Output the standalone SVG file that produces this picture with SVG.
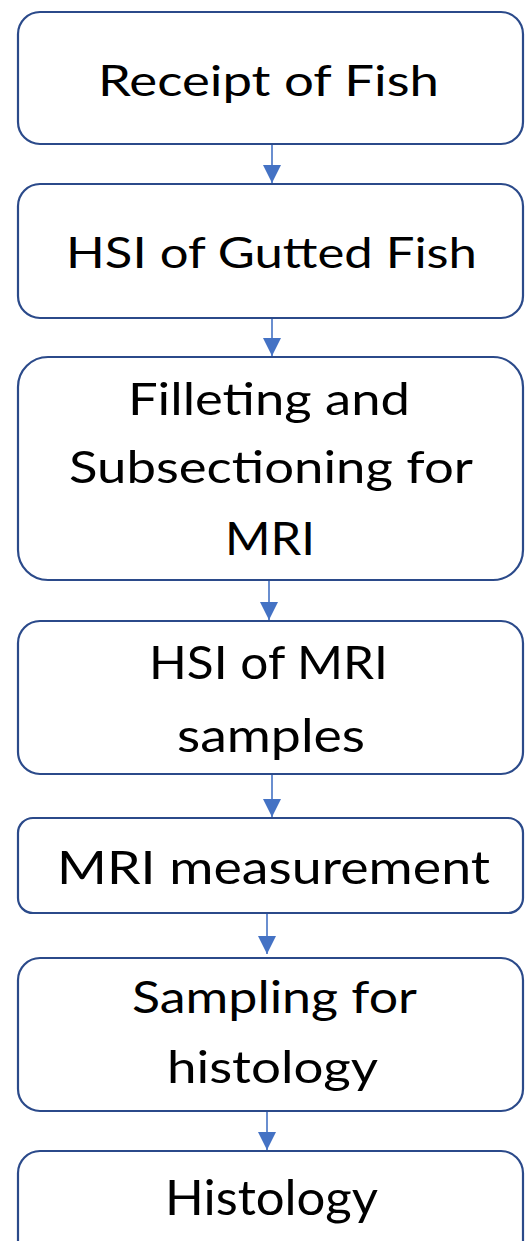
<svg xmlns="http://www.w3.org/2000/svg" width="525" height="1241" viewBox="0 0 525 1241">
<style>
.box{fill:#ffffff;stroke:#2b4a8a;stroke-width:2.2}
.lbl{font-family:Lato,"Open Sans","Liberation Sans",sans-serif;fill:#000000}
.conn{stroke:#4472c4;stroke-width:1.6;fill:none}
</style>
<defs>
<marker id="ah" viewBox="0 0 18 18" refX="18" refY="9" markerWidth="18" markerHeight="18" markerUnits="userSpaceOnUse" orient="auto">
<path d="M0,0 L18,9 L0,18 z" fill="#4472c4"/>
</marker>
</defs>
<rect width="525" height="1241" fill="#ffffff"/>
<g id="connectors">
<line class="conn" x1="272" y1="144" x2="272" y2="183" marker-end="url(#ah)"/>
<line class="conn" x1="272" y1="318" x2="272" y2="356" marker-end="url(#ah)"/>
<line class="conn" x1="269" y1="580" x2="269" y2="620" marker-end="url(#ah)"/>
<line class="conn" x1="272" y1="774" x2="272" y2="817" marker-end="url(#ah)"/>
<line class="conn" x1="267" y1="913" x2="267" y2="954" marker-end="url(#ah)"/>
<line class="conn" x1="267" y1="1111" x2="267" y2="1150" marker-end="url(#ah)"/>
</g>
<g id="node1">
<rect class="box" x="18" y="12" width="505" height="132" rx="22"/>
<text class="lbl" x="98" y="96" font-size="43" textLength="341" lengthAdjust="spacingAndGlyphs">Receipt of Fish</text>
</g>
<g id="node2">
<rect class="box" x="18" y="184" width="505" height="134" rx="22"/>
<text class="lbl" x="66" y="268" font-size="42" textLength="411" lengthAdjust="spacingAndGlyphs">HSI of Gutted Fish</text>
</g>
<g id="node3">
<rect class="box" x="18" y="357" width="505" height="223" rx="30"/>
<text class="lbl" x="128" y="415" font-size="45" textLength="282" lengthAdjust="spacingAndGlyphs">Filleting and</text>
<text class="lbl" x="69" y="483" font-size="45" textLength="404" lengthAdjust="spacingAndGlyphs">Subsectioning for</text>
<text class="lbl" x="225" y="555" font-size="46" textLength="90" lengthAdjust="spacingAndGlyphs">MRI</text>
</g>
<g id="node4">
<rect class="box" x="18" y="621" width="505" height="153" rx="22"/>
<text class="lbl" x="149" y="679" font-size="47" textLength="239" lengthAdjust="spacingAndGlyphs">HSI of MRI</text>
<text class="lbl" x="177" y="752" font-size="47" textLength="188" lengthAdjust="spacingAndGlyphs">samples</text>
</g>
<g id="node5">
<rect class="box" x="18" y="818" width="505" height="95" rx="15"/>
<text class="lbl" x="57" y="884" font-size="47" textLength="433" lengthAdjust="spacingAndGlyphs">MRI measurement</text>
</g>
<g id="node6">
<rect class="box" x="18" y="958" width="505" height="153" rx="22"/>
<text class="lbl" x="132" y="1013" font-size="44" textLength="285" lengthAdjust="spacingAndGlyphs">Sampling for</text>
<text class="lbl" x="167" y="1083" font-size="44" textLength="211" lengthAdjust="spacingAndGlyphs">histology</text>
</g>
<g id="node7">
<rect class="box" x="18" y="1151" width="505" height="120" rx="22"/>
<text class="lbl" x="165" y="1215" font-size="48" textLength="213" lengthAdjust="spacingAndGlyphs">Histology</text>
</g>
</svg>
